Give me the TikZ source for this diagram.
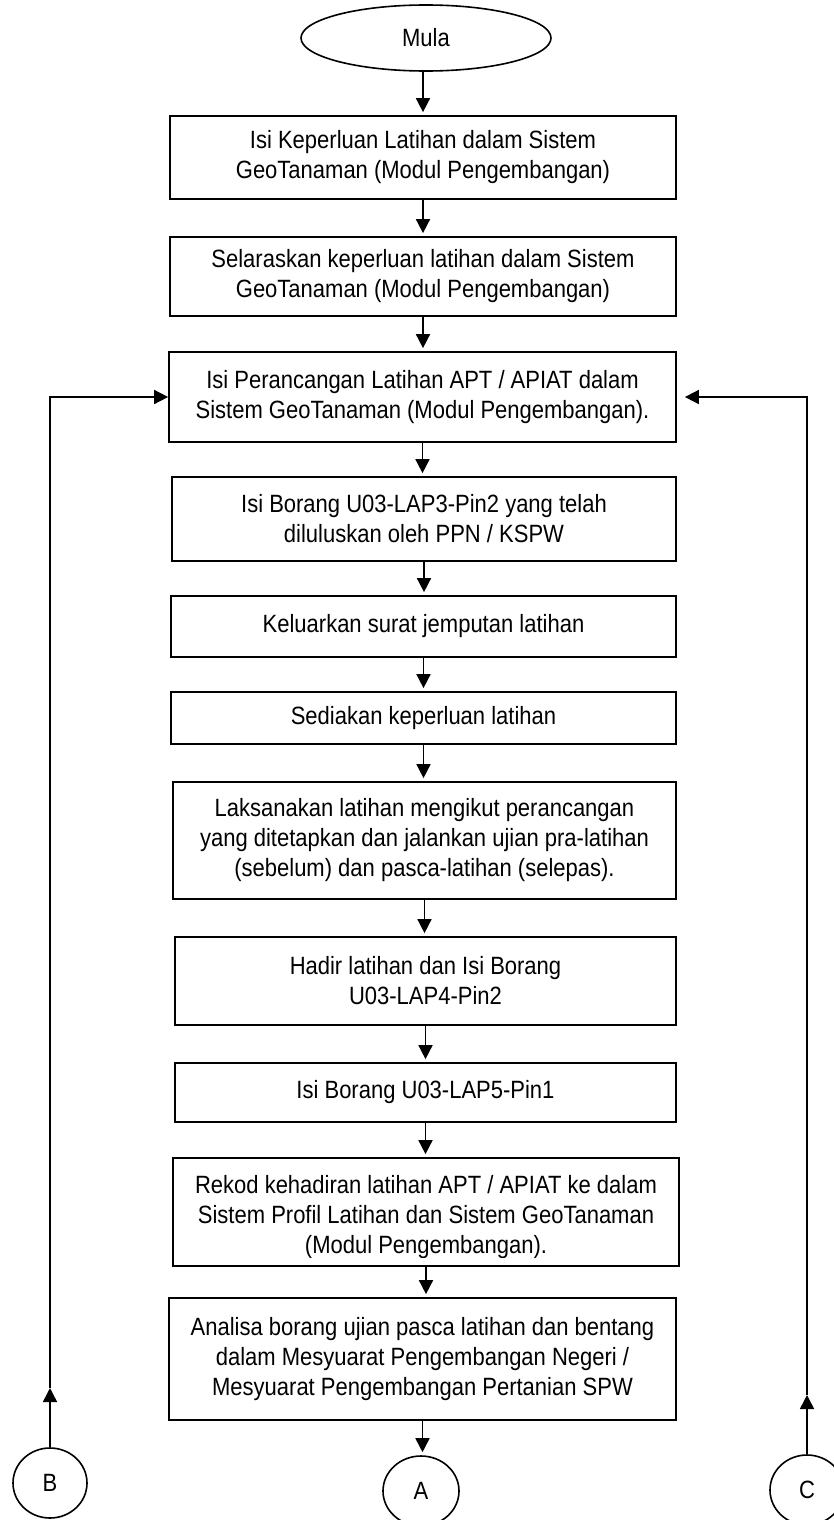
\documentclass[tikz,border=0pt]{standalone}
\usepackage{fontspec}
\setmainfont{Liberation Sans}[FakeStretch=0.88]
\usetikzlibrary{arrows.meta,shapes.geometric}
\begin{document}
\begin{tikzpicture}[x=1pt,y=-1pt,
  txt/.style={align=center, font=\fontsize{25}{30}\selectfont, inner sep=0pt},
  box/.style={txt, draw, line width=1.7pt, rectangle},
  arr/.style={line width=1.6pt, -{Triangle[width=14pt,length=14pt]}, shorten >=3pt},
  conn/.style={txt, draw, ellipse, line width=1.6pt},
]
\path[use as bounding box] (0,0) rectangle (833,1520);

\node[conn, minimum width=250pt, minimum height=66pt] (start) at (426,38) {\raisebox{-4pt}{Mula}};

\node[box, minimum width=506pt, minimum height=83pt] (b1) at (423,157.5)
  {Isi Keperluan Latihan dalam Sistem\\GeoTanaman (Modul Pengembangan)};
\node[box, minimum width=506pt, minimum height=79pt] (b2) at (423,276.5)
  {Selaraskan keperluan latihan dalam Sistem\\GeoTanaman (Modul Pengembangan)};
\node[box, minimum width=507pt, minimum height=90pt] (b3) at (422.5,397)
  {Isi Perancangan Latihan APT / APIAT dalam\\Sistem GeoTanaman (Modul Pengembangan).};
\node[box, minimum width=504pt, minimum height=84pt] (b4) at (424,519)
  {Isi Borang U03-LAP3-Pin2 yang telah\\diluluskan oleh PPN / KSPW};
\node[box, minimum width=505pt, minimum height=61pt] (b5) at (423.5,626.5)
  {Keluarkan surat jemputan latihan};
\node[box, minimum width=505pt, minimum height=52pt] (b6) at (423.5,718)
  {Sediakan keperluan latihan};
\node[box, minimum width=503pt, minimum height=117pt] (b7) at (424.5,840.5)
  {Laksanakan latihan mengikut perancangan\\yang ditetapkan dan jalankan ujian pra-latihan\\(sebelum) dan pasca-latihan (selepas).};
\node[box, minimum width=501pt, minimum height=88pt] (b8) at (425.5,981)
  {Hadir latihan dan Isi Borang\\U03-LAP4-Pin2};
\node[box, minimum width=501pt, minimum height=59pt] (b9) at (425.5,1092.5)
  {Isi Borang U03-LAP5-Pin1};
\node[box, minimum width=506pt, minimum height=108pt] (b10) at (426,1212) {};
\begin{scope}
  \clip (b10.north west) rectangle ([yshift=9pt]b10.south east);
  \node[txt] (t10) at (426,1217)
    {Rekod kehadiran latihan APT / APIAT ke dalam\\Sistem Profil Latihan dan Sistem GeoTanaman\\(Modul Pengembangan).};
\end{scope}
\node[box, minimum width=507pt, minimum height=122pt] (b11) at (422.5,1359)
  {Analisa borang ujian pasca latihan dan bentang\\dalam Mesyuarat Pengembangan Negeri /\\Mesyuarat Pengembangan Pertanian SPW};

\node[conn, minimum width=76pt, minimum height=70pt] (A) at (421,1491) {A};
\node[conn, minimum width=74pt, minimum height=70pt] (B) at (50,1483) {B};
\node[conn, minimum width=74pt, minimum height=70pt] (C) at (807,1490) {C};

\draw[arr] (b1.north |- start.south) -- (b1.north);
\draw[arr] (b1.south) -- (b1.south |- b2.north);
\draw[arr] (b2.south) -- (b2.south |- b3.north);
\draw[arr] (b3.south) -- (b3.south |- b4.north);
\draw[arr] (b4.south) -- (b4.south |- b5.north);
\draw[arr] (b5.south) -- (b5.south |- b6.north);
\draw[arr] (b6.south) -- (b6.south |- b7.north);
\draw[arr] (b7.south) -- (b7.south |- b8.north);
\draw[arr] (b8.south) -- (b8.south |- b9.north);
\draw[arr] (b9.south) -- (b9.south |- b10.north);
\draw[arr] (b10.south) -- (b10.south |- b11.north);
\draw[arr] (b11.south) -- (b11.south |- A.north);

\coordinate (Bj) at (50,1388);
\coordinate (Cj) at (807,1395);
\draw[arr, shorten >=0pt] (B.north) -- (Bj);
\draw[arr, shorten >=0pt] (Bj) |- (b3.west);
\draw[arr, shorten >=0pt] (C.north) -- (Cj);
\draw[arr, shorten >=0pt] (Cj) |- ([xshift=8pt]b3.east);
\end{tikzpicture}
\end{document}
